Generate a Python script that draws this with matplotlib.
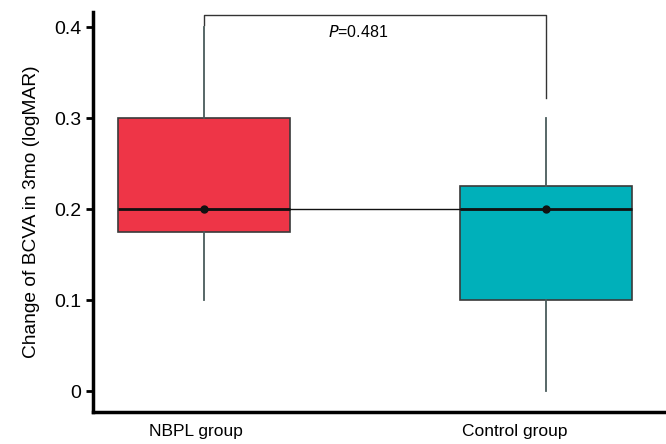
import matplotlib
matplotlib.use("Agg")
import matplotlib.pyplot as plt

# Datos del gráfico
groups = ["NBPL group", "Control group"]
whislo = [0.1, 0.0]
q1 = [0.175, 0.1]
med = [0.2, 0.2]
q3 = [0.3, 0.225]
whishi = [0.4, 0.3]
means = [0.2, 0.2]
colors = ["#EE3547", "#00B0BA"]
p_text = "=0.481"

plt.rcParams["font.family"] = ["Liberation Sans", "DejaVu Sans"]

fig = plt.figure(figsize=(6.66, 4.44), dpi=100)
ax = fig.add_axes([0.1396, 0.0721, 0.8604, 0.9009])

stats = []
for i, g in enumerate(groups):
    stats.append({
        "label": g, "whislo": whislo[i], "q1": q1[i], "med": med[i],
        "q3": q3[i], "whishi": whishi[i], "mean": means[i], "fliers": [],
    })

pos = [1, 2]
bp = ax.bxp(stats, positions=pos, widths=0.503, patch_artist=True,
            showcaps=False, showfliers=False,
            boxprops=dict(edgecolor="#3a3a3a", linewidth=1.2),
            whiskerprops=dict(color="#4a5c5c", linewidth=1.3),
            medianprops=dict(color="#111111", linewidth=2.0))
for patch, c in zip(bp["boxes"], colors):
    patch.set_facecolor(c)

# Línea de medias
ax.plot(pos, means, color="#111111", lw=1.0, marker="o", ms=5, zorder=5)

# Corchete de significación
ax.plot([pos[0], pos[0], pos[1], pos[1]], [0.4025, 0.413, 0.413, 0.3225],
        color="#333333", lw=1.0, clip_on=False)
ax.text(1.45, 0.3945, "$\\it{P}$" + p_text, ha="center", va="center",
        fontsize=11.5)

ax.set_xlim(0.675, 2.351)
ax.set_ylim(-0.023, 0.4165)
ax.set_yticks([0, 0.1, 0.2, 0.3, 0.4])
ax.set_yticklabels(["0", "0.1", "0.2", "0.3", "0.4"])
# etiquetas algo desplazadas a la izquierda, como en la figura original
ax.set_xticks([pos[0] - 0.023, pos[1] - 0.091])
ax.set_xticklabels(groups, fontsize=12.5)
ax.set_ylabel("Change of BCVA in 3mo (logMAR)", fontsize=13.8, labelpad=10)

for s in ["top", "right"]:
    ax.spines[s].set_visible(False)
for s in ["left", "bottom"]:
    ax.spines[s].set_linewidth(2.5)
ax.tick_params(axis="y", labelsize=14, width=2, length=5)
ax.tick_params(axis="x", length=0, pad=9)

fig.savefig("out.png", dpi=100)
